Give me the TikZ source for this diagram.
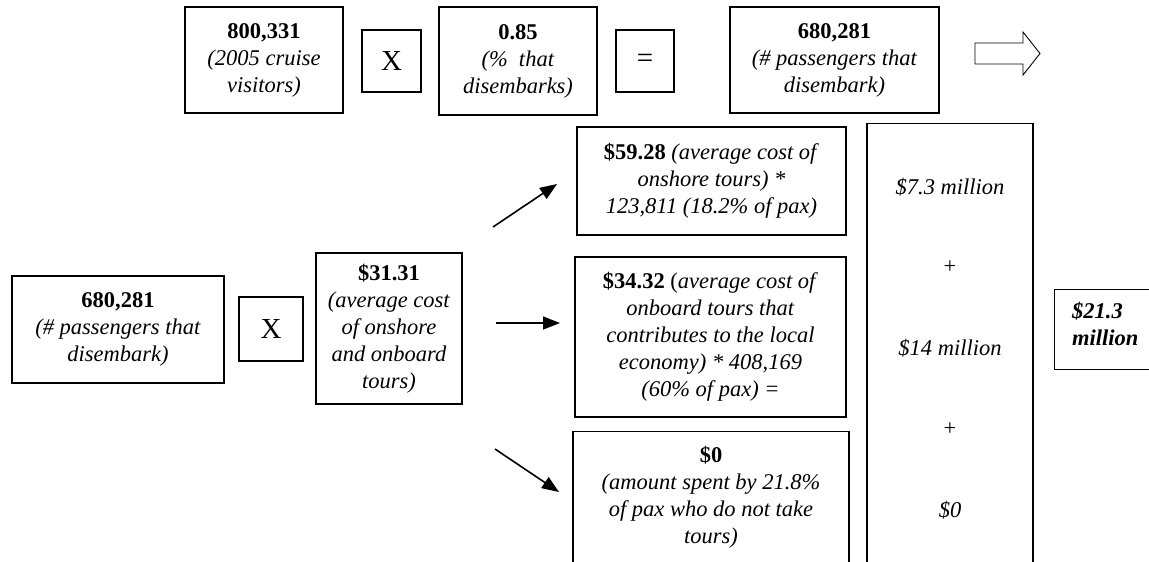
\documentclass[tikz,border=0pt]{standalone}
\usepackage{fontspec}
\setmainfont{Liberation Serif}
\usetikzlibrary{positioning,calc,arrows.meta}
\tikzset{font=\fontsize{22.5}{27}\selectfont}
\tikzset{
	box/.style={draw, line width=1.3pt, align=center, inner sep=0pt},
	sign/.style={box, font=\fontsize{29}{29}\selectfont},
	txt/.style={align=center, inner sep=0pt},
	flow/.style={line width=1.6pt, -{Triangle[length=17pt,width=13pt]}},
}

\begin{document}
\begin{tikzpicture}[x=1pt, y=1pt]
	\useasboundingbox (0,0) rectangle (1149,-562);
	\clip (0,0) rectangle (1149,-562);

	% passengers that go ashore
	\node[box, minimum width=158, minimum height=106] (visitors) at (264,-60) {\textbf{800,331}\\ \textit{(2005 cruise}\\ \textit{visitors)}};
	\node[sign, minimum width=59, minimum height=62] (timesA) at (391.5,-61) {X};
	\node[box, minimum width=158, minimum height=108] (share) at (518,-61) {\textbf{0.85}\\ \textit{(\% \ that}\\ \textit{disembarks)}};
	\node[sign, minimum width=58, minimum height=62] (equals) at (645,-61) {=};
	\node[box, minimum width=209, minimum height=106] (paxTop) at (834.5,-60) {\textbf{680,281}\\ \textit{(\# passengers that}\\ \textit{disembark)}};
	\coordinate (next) at (975,-53.5);
	\draw[line width=0.9pt] (next) ++(0,10.5) -- ++(48,0) -- ++(0,11) -- ++(17,-21.5) -- ++(-17,-21.5) -- ++(0,11) -- ++(-48,0) -- cycle;

	% spending per passenger
	\node[box, minimum width=212, minimum height=107] (paxMid) at (118,-329.5) {\textbf{680,281}\\ \textit{(\# passengers that}\\ \textit{disembark)}};
	\node[sign, minimum width=64, minimum height=64] (timesB) at (271,-329) {X};
	\node[box, minimum width=146, minimum height=151] (cost) at (389,-328.5) {\textbf{\$31.31}\\ \textit{(average cost}\\ \textit{of onshore}\\ \textit{and onboard}\\ \textit{tours)}};

	\node[box, minimum width=269, minimum height=108] (onshore) at (711.5,-181) {\textbf{\$59.28} \textit{(average cost of}\\ \textit{onshore tours) *}\\ \textit{123,811 (18.2\% of pax)}};
	\node[box, minimum width=271, minimum height=160] (onboard) at (710.5,-337) {\textbf{\$34.32} (\textit{average cost of}\\ \textit{onboard tours that}\\ \textit{contributes to the local}\\ \textit{economy) * 408,169}\\ \textit{(60\% of pax) =}};
	\node[box, minimum width=276, minimum height=200, anchor=north] (none) at (711,-431) {};
	\node[txt, anchor=north] (noneText) at (711,-446) {\textbf{\$0}\\ \textit{(amount spent by 21.8\%}\\ \textit{of pax who do not take}\\ \textit{tours)}};

	\coordinate (upFrom) at (493,-227);
	\coordinate (upTo) at (557,-184);
	\coordinate (midFrom) at (496,-323);
	\coordinate (midTo) at (560,-323);
	\coordinate (downFrom) at (495,-449);
	\coordinate (downTo) at (559,-492);
	\draw[flow] (upFrom) -- (upTo);
	\draw[flow] (midFrom) -- (midTo);
	\draw[flow] (downFrom) -- (downTo);

	% totals
	\node[box, minimum width=166, minimum height=500, anchor=north] (sum) at (950,-123) {};
	\node[txt] (sumA) at (950,-187) {\textit{\$7.3 million}};
	\node[txt] (plusA) at (950,-267) {+};
	\node[txt] (sumB) at (950,-348) {\textit{\$14 million}};
	\node[txt] (plusB) at (950,-429) {+};
	\node[txt] (sumC) at (950,-510) {\textit{\$0}};

	\node[box, minimum width=150, minimum height=80, anchor=north west] (grand) at (1054,-289) {};
	\node[txt, align=left, anchor=north west] (grandText) at (1072,-302) {\textbf{\textit{\$21.3}}\\ \textbf{\textit{million}}};
\end{tikzpicture}
\end{document}
